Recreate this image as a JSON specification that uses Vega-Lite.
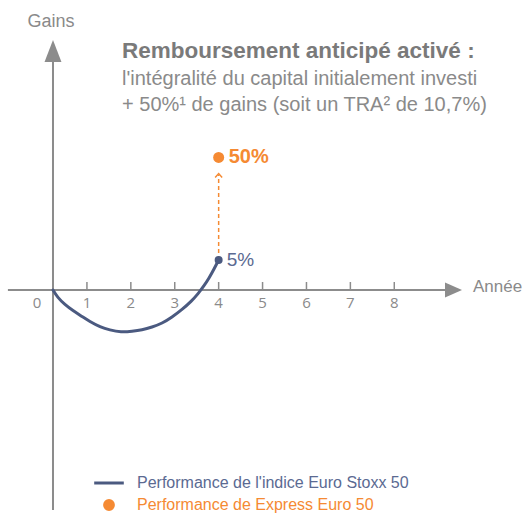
{
  "$schema": "https://vega.github.io/schema/vega-lite/v6.json",
  "width": 526,
  "height": 516,
  "padding": 0,
  "autosize": {"type": "none"},
  "background": "white",
  "config": {"view": {"stroke": null}, "text": {"font": "Liberation Sans"}},
  "datasets": {
    "curve": [
      {"year": 0.227, "gain": 0, "series": "Performance de l'indice Euro Stoxx 50"},
      {"year": 0.341, "gain": -1.05, "series": "Performance de l'indice Euro Stoxx 50"},
      {"year": 0.5, "gain": -2.15, "series": "Performance de l'indice Euro Stoxx 50"},
      {"year": 0.683, "gain": -3.2, "series": "Performance de l'indice Euro Stoxx 50"},
      {"year": 0.888, "gain": -4.3, "series": "Performance de l'indice Euro Stoxx 50"},
      {"year": 1.07, "gain": -5.3, "series": "Performance de l'indice Euro Stoxx 50"},
      {"year": 1.298, "gain": -6.4, "series": "Performance de l'indice Euro Stoxx 50"},
      {"year": 1.525, "gain": -7.15, "series": "Performance de l'indice Euro Stoxx 50"},
      {"year": 1.776, "gain": -7.57, "series": "Performance de l'indice Euro Stoxx 50"},
      {"year": 2.026, "gain": -7.45, "series": "Performance de l'indice Euro Stoxx 50"},
      {"year": 2.254, "gain": -7.1, "series": "Performance de l'indice Euro Stoxx 50"},
      {"year": 2.482, "gain": -6.49, "series": "Performance de l'indice Euro Stoxx 50"},
      {"year": 2.71, "gain": -5.62, "series": "Performance de l'indice Euro Stoxx 50"},
      {"year": 2.937, "gain": -4.4, "series": "Performance de l'indice Euro Stoxx 50"},
      {"year": 3.165, "gain": -3.0, "series": "Performance de l'indice Euro Stoxx 50"},
      {"year": 3.37, "gain": -1.66, "series": "Performance de l'indice Euro Stoxx 50"},
      {"year": 3.53, "gain": -0.5, "series": "Performance de l'indice Euro Stoxx 50"},
      {"year": 3.666, "gain": 0.6, "series": "Performance de l'indice Euro Stoxx 50"},
      {"year": 3.78, "gain": 1.76, "series": "Performance de l'indice Euro Stoxx 50"},
      {"year": 3.894, "gain": 3.28, "series": "Performance de l'indice Euro Stoxx 50"},
      {"year": 4, "gain": 5, "series": "Performance de l'indice Euro Stoxx 50"}
    ],
    "markers": [
      {"year": 4, "gain": 5, "series": "Performance de l'indice Euro Stoxx 50", "label": "5%"},
      {"year": 4, "gain": 50, "series": "Performance de Express Euro 50", "label": "50%"}
    ],
    "ticks": [
      {"t": 1}, {"t": 2}, {"t": 3}, {"t": 4}, {"t": 5}, {"t": 6}, {"t": 7}, {"t": 8}
    ]
  },
  "layer": [
    {
      "data": {"values": [{}]},
      "mark": {"type": "rule", "color": "#8c8c8c", "strokeWidth": 2},
      "encoding": {
        "x": {"datum": 0.227, "type": "quantitative", "scale": {"domain": [-0.98, 11.0], "nice": false, "zero": false}, "axis": null},
        "y": {"datum": -185.6, "type": "quantitative", "scale": {"type": "symlog", "constant": 10, "domain": [-202.1, 493.7], "nice": false, "zero": false}, "axis": null},
        "y2": {"datum": 242.8}
      }
    },
    {
      "data": {"values": [{}]},
      "mark": {"type": "rule", "color": "#8c8c8c", "strokeWidth": 2},
      "encoding": {
        "x": {"datum": -0.8, "type": "quantitative", "axis": null},
        "x2": {"datum": 9.3},
        "y": {"datum": 0, "type": "quantitative", "axis": null}
      }
    },
    {
      "data": {"values": [{}]},
      "mark": {"type": "point", "shape": "M-0.77,1L0.77,1L0,-1Z", "filled": true, "color": "#8c8c8c", "opacity": 1, "size": 484, "strokeWidth": 0},
      "encoding": {
        "x": {"datum": 0.227, "type": "quantitative", "axis": null},
        "y": {"datum": 242.8, "type": "quantitative", "axis": null}
      }
    },
    {
      "data": {"values": [{}]},
      "mark": {"type": "point", "shape": "M-1,-0.88L1,0L-1,0.88Z", "filled": true, "color": "#8c8c8c", "opacity": 1, "size": 289, "strokeWidth": 0},
      "encoding": {
        "x": {"datum": 9.349, "type": "quantitative", "axis": null},
        "y": {"datum": 0, "type": "quantitative", "axis": null}
      }
    },
    {
      "data": {"name": "ticks"},
      "mark": {"type": "rule", "color": "#8c8c8c", "strokeWidth": 1.5},
      "encoding": {
        "x": {"field": "t", "type": "quantitative", "axis": null},
        "y": {"datum": 0, "type": "quantitative", "axis": null},
        "y2": {"datum": 1.14}
      }
    },
    {
      "data": {"name": "ticks"},
      "mark": {"type": "text", "font": "Open Sans", "fontSize": 15, "color": "#8a8a8a", "baseline": "middle", "align": "center"},
      "encoding": {
        "x": {"field": "t", "type": "quantitative", "axis": null},
        "y": {"datum": -1.92, "type": "quantitative", "axis": null},
        "text": {"field": "t"}
      }
    },
    {
      "data": {"values": [{}]},
      "mark": {"type": "text", "text": "0", "font": "Open Sans", "fontSize": 15, "color": "#8a8a8a", "baseline": "middle", "align": "center", "dx": -6},
      "encoding": {
        "x": {"datum": 0, "type": "quantitative", "axis": null},
        "y": {"datum": -1.92, "type": "quantitative", "axis": null}
      }
    },
    {
      "data": {"name": "curve"},
      "mark": {"type": "line", "interpolate": "natural", "strokeWidth": 3, "strokeCap": "round"},
      "encoding": {
        "x": {"field": "year", "type": "quantitative", "axis": null},
        "y": {"field": "gain", "type": "quantitative", "axis": null},
        "color": {
          "field": "series",
          "type": "nominal",
          "scale": {"domain": ["Performance de l'indice Euro Stoxx 50", "Performance de Express Euro 50"], "range": ["#4b5a80", "#f58a33"]},
          "legend": {
            "orient": "none",
            "legendX": 101,
            "legendY": 475,
            "title": null,
            "labelFont": "Liberation Sans",
            "labelFontSize": 16,
            "labelLimit": 400,
            "symbolSize": 196,
            "labelOffset": 20,
            "rowPadding": 3,
            "encode": {
              "symbols": {
                "update": {
                  "shape": {"signal": "datum.value === 'Performance de Express Euro 50' ? 'M0.8,0A0.8,0.8,0,1,1,-0.8,0A0.8,0.8,0,1,1,0.8,0Z' : 'M-3.7,0L3.7,0'"},
                  "size": {"value": 196},
                  "fill": {"signal": "datum.value === 'Performance de Express Euro 50' ? '#f58a33' : 'transparent'"},
                  "stroke": {"signal": "datum.value === 'Performance de Express Euro 50' ? 'transparent' : '#4b5a80'"},
                  "strokeWidth": {"value": 3},
                  "opacity": {"value": 1}
                }
              },
              "labels": {
                "update": {
                  "fill": {"signal": "datum.value === 'Performance de Express Euro 50' ? '#f58a33' : '#5b6a92'"}
                }
              }
            }
          }
        }
      }
    },
    {
      "data": {"values": [{}]},
      "mark": {"type": "rule", "color": "#f58a33", "strokeWidth": 1.5, "strokeDash": [4, 3]},
      "encoding": {
        "x": {"datum": 4, "type": "quantitative", "axis": null},
        "y": {"datum": 5, "type": "quantitative", "axis": null},
        "y2": {"datum": 37.3}
      }
    },
    {
      "data": {"values": [{}]},
      "mark": {"type": "point", "shape": "M-1,0.55L0,-0.55L1,0.55", "filled": false, "fill": null, "stroke": "#f58a33", "strokeWidth": 1.5, "opacity": 1, "size": 49},
      "encoding": {
        "x": {"datum": 4, "type": "quantitative", "axis": null},
        "y": {"datum": 37.0, "type": "quantitative", "axis": null}
      }
    },
    {
      "data": {"name": "markers"},
      "mark": {"type": "point", "filled": true, "opacity": 1, "strokeWidth": 0},
      "encoding": {
        "x": {"field": "year", "type": "quantitative", "axis": null},
        "y": {"field": "gain", "type": "quantitative", "axis": null},
        "color": {"field": "series", "type": "nominal"},
        "size": {"field": "series", "type": "nominal", "scale": {"domain": ["Performance de l'indice Euro Stoxx 50", "Performance de Express Euro 50"], "range": [64, 121]}, "legend": null}
      }
    },
    {
      "data": {"name": "markers"},
      "transform": [{"filter": "datum.label === '5%'"}],
      "mark": {"type": "text", "fontSize": 19, "color": "#5b6a92", "align": "left", "baseline": "middle", "dx": 8},
      "encoding": {
        "x": {"field": "year", "type": "quantitative", "axis": null},
        "y": {"field": "gain", "type": "quantitative", "axis": null},
        "text": {"field": "label"}
      }
    },
    {
      "data": {"name": "markers"},
      "transform": [{"filter": "datum.label === '50%'"}],
      "mark": {"type": "text", "fontSize": 20, "fontWeight": "bold", "color": "#f58a33", "align": "left", "baseline": "middle", "dx": 10},
      "encoding": {
        "x": {"field": "year", "type": "quantitative", "axis": null},
        "y": {"field": "gain", "type": "quantitative", "axis": null},
        "text": {"field": "label"}
      }
    },
    {
      "data": {"values": [{}]},
      "mark": {"type": "text", "text": "Gains", "fontSize": 18, "color": "#8a8a8a", "align": "center", "baseline": "middle"},
      "encoding": {
        "x": {"datum": 0.182, "type": "quantitative", "axis": null},
        "y": {"datum": 364.1, "type": "quantitative", "axis": null}
      }
    },
    {
      "data": {"values": [{}]},
      "mark": {"type": "text", "text": "Année", "fontSize": 17, "color": "#8a8a8a", "align": "left", "baseline": "middle"},
      "encoding": {
        "x": {"datum": 9.793, "type": "quantitative", "axis": null},
        "y": {"datum": 0.41, "type": "quantitative", "axis": null}
      }
    },
    {
      "data": {"values": [{}]},
      "mark": {"type": "text", "text": "Remboursement anticipé activé :", "fontSize": 22.5, "fontWeight": "bold", "color": "#7a7a7a", "align": "left", "baseline": "alphabetic"},
      "encoding": {
        "x": {"datum": 1.799, "type": "quantitative", "axis": null},
        "y": {"datum": 220.0, "type": "quantitative", "axis": null}
      }
    },
    {
      "data": {"values": [{}]},
      "mark": {"type": "text", "text": "l'intégralité du capital initialement investi", "fontSize": 20, "color": "#8a8a8a", "align": "left", "baseline": "alphabetic"},
      "encoding": {
        "x": {"datum": 1.799, "type": "quantitative", "axis": null},
        "y": {"datum": 149.7, "type": "quantitative", "axis": null}
      }
    },
    {
      "data": {"values": [{}]},
      "mark": {"type": "text", "text": "+ 50%¹ de gains (soit un TRA² de 10,7%)", "fontSize": 20, "color": "#8a8a8a", "align": "left", "baseline": "alphabetic"},
      "encoding": {
        "x": {"datum": 1.799, "type": "quantitative", "axis": null},
        "y": {"datum": 102.4, "type": "quantitative", "axis": null}
      }
    }
  ]
}
